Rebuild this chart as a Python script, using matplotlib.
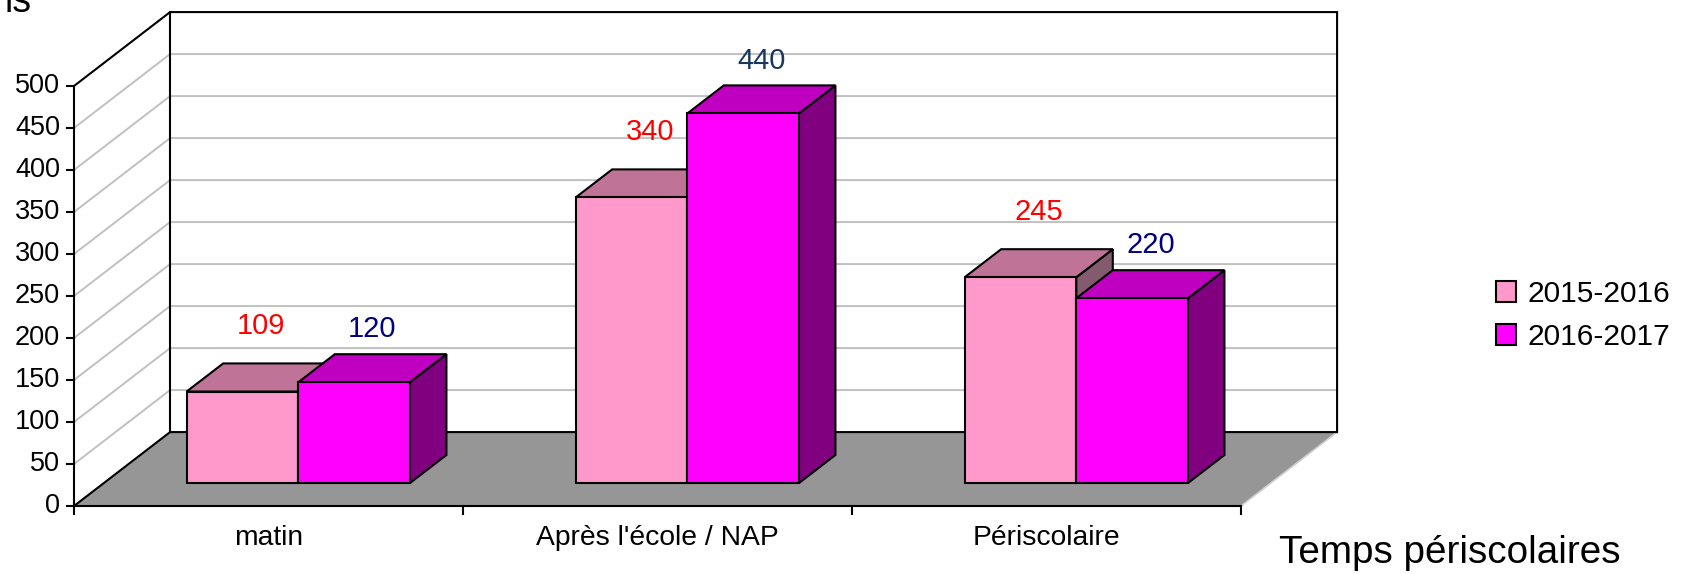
import matplotlib.pyplot as plt
from matplotlib.patches import Polygon, Patch

plt.rcParams['font.family'] = ['Liberation Sans', 'DejaVu Sans']

# Data
categories = ["matin", "Après l'école / NAP", "Périscolaire"]
series = ["2015-2016", "2016-2017"]
values_2015 = [109, 340, 245]
values_2016 = [120, 440, 220]
y_ticks = [0, 50, 100, 150, 200, 250, 300, 350, 400, 450, 500]

# Colours for the fake 3D boxes
front_colors = ["#FF99CC", "#FF00FF"]
top_colors = ["#BF7396", "#C000C0"]
side_colors = ["#845A6E", "#800080"]
label_colors = [["#FF0000", "#FF0000", "#FF0000"], ["#000080", "#17375E", "#000080"]]
label_offsets = [37, 28]  # points above the bar top

# depth of the 3D box (in category / value units)
DX = 0.247
DY = 88.0
BAR_W = 0.287
Z0, Z1 = 0.31, 0.69
VMAX = 500
N = len(categories)


def P(x, v, z):
    return (x + z * DX, v + z * DY)


fig = plt.figure(figsize=(16.82, 5.74), dpi=100)
ax = fig.add_axes([0, 0, 1, 1])
ax.set_xlim(-74 / 389, (1682 - 74) / 389)
ax.set_ylim(-68 / 0.84, 506 / 0.84)
ax.axis('off')

# walls
back_wall = [P(0, 0, 1), P(N, 0, 1), P(N, VMAX, 1), P(0, VMAX, 1)]
left_wall = [P(0, 0, 0), P(0, 0, 1), P(0, VMAX, 1), P(0, VMAX, 0)]
ax.add_patch(Polygon(back_wall, closed=True, fc='white', ec='none', zorder=1))
ax.add_patch(Polygon(left_wall, closed=True, fc='white', ec='none', zorder=1))

# gridlines
for v in y_ticks[1:-1]:
    a, b, c = P(0, v, 0), P(0, v, 1), P(N, v, 1)
    ax.plot([a[0], b[0], c[0]], [a[1], b[1], c[1]], color='#C0C0C0', lw=1.4, zorder=2)

# floor
floor = [P(0, 0, 0), P(N, 0, 0), P(N, 0, 1), P(0, 0, 1)]
ax.add_patch(Polygon(floor, closed=True, fc='#969696', ec='none', zorder=3))
a, b = P(N, 0, 0), P(N, 0, 1)
ax.plot([a[0], b[0]], [a[1], b[1]], color='#D0D0D0', lw=1.2, zorder=4)

# black edges of walls
edges = [
    [P(0, 0, 0), P(0, VMAX, 0), P(0, VMAX, 1), P(N, VMAX, 1), P(N, 0, 1), P(0, 0, 1), P(0, 0, 0), P(N, 0, 0)],
    [P(0, 0, 1), P(0, VMAX, 1)],
]
for e in edges:
    ax.plot([p[0] for p in e], [p[1] for p in e], color='black', lw=1.5, zorder=4,
            solid_joinstyle='miter')

# y ticks and labels
for v in y_ticks:
    ax.plot([-7 / 389, 0], [v, v], color='black', lw=1.5, zorder=4)
    ax.annotate(str(v), (0, v), xytext=(-10, 0), textcoords='offset points',
                ha='right', va='center', fontsize=19.5)

# x ticks and labels
for i in range(N + 1):
    ax.plot([i, i], [0, -8 / 0.84], color='black', lw=1.5, zorder=4)
for i, cat in enumerate(categories):
    ax.annotate(cat, (i + 0.5, 0), xytext=(0, -23), textcoords='offset points',
                ha='center', va='center', fontsize=20.3)

# bars
z = 5
for i in range(N):
    for j, vals in enumerate([values_2015, values_2016]):
        v = vals[i]
        x0 = i + 0.5 - BAR_W + j * BAR_W
        x1 = x0 + BAR_W
        front = [P(x0, 0, Z0), P(x1, 0, Z0), P(x1, v, Z0), P(x0, v, Z0)]
        top = [P(x0, v, Z0), P(x1, v, Z0), P(x1, v, Z1), P(x0, v, Z1)]
        side = [P(x1, 0, Z0), P(x1, 0, Z1), P(x1, v, Z1), P(x1, v, Z0)]
        for poly, col in [(side, side_colors[j]), (top, top_colors[j]), (front, front_colors[j])]:
            ax.add_patch(Polygon(poly, closed=True, fc=col, ec='black', lw=1.5,
                                 joinstyle='miter', zorder=z))
            z += 1
        ax.annotate(str(v), P(x0 + BAR_W / 2, v, 0.5), xytext=(0, label_offsets[j]),
                    textcoords='offset points', ha='center', va='center',
                    fontsize=21, color=label_colors[j][i], zorder=50)

# legend
handles = [Patch(fc=front_colors[j], ec='black', lw=1.5) for j in range(2)]
ax.legend(handles, series, loc='upper left', bbox_to_anchor=(1496 / 1682, 1 - 280 / 574),
          frameon=False, fontsize=21.5, handlelength=0.67, handleheight=0.67,
          handletextpad=0.37, labelspacing=0.5, borderpad=0, borderaxespad=0)

# axis titles
fig.text(1450 / 1682, 1 - 553 / 574, "Temps périscolaires", ha='center', va='center', fontsize=27.8)
fig.text(32 / 1682, 1 - 12 / 574, "ls", ha='right', va='baseline', fontsize=27)

fig.savefig("out.png", dpi=100)
